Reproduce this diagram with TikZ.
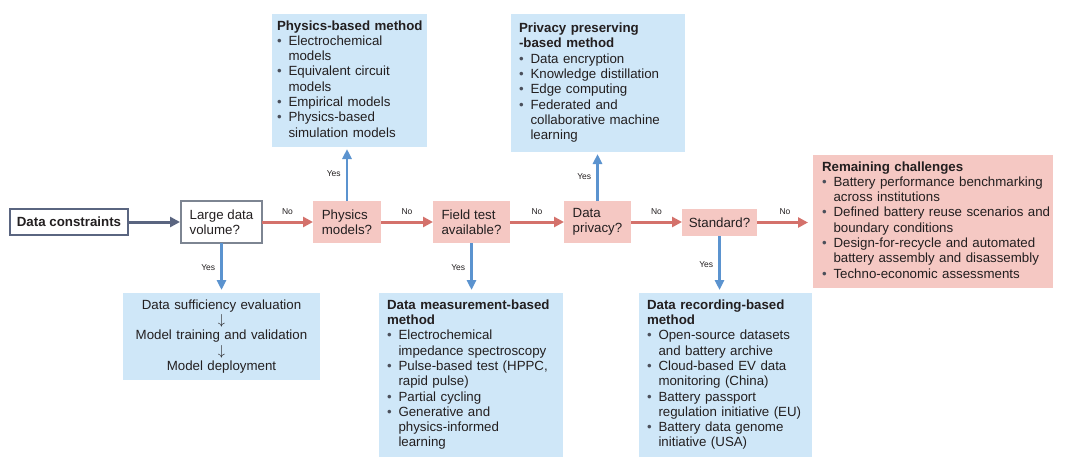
\documentclass[tikz,border=0pt]{standalone}
\usepackage{fontspec}
\setmainfont{Liberation Sans}
\usetikzlibrary{arrows.meta}
\definecolor{bluefill}{HTML}{CFE7F8}
\definecolor{pinkfill}{HTML}{F5C8C3}
\definecolor{redline}{HTML}{D4716B}
\definecolor{blueline}{HTML}{5B93CF}
\definecolor{darkline}{HTML}{5A6580}
\definecolor{grayborder}{HTML}{7D8592}
\definecolor{txt}{HTML}{231F20}
\definecolor{bulc}{HTML}{4A4F5A}
\newcommand\bu{\makebox[11.5pt][l]{\textcolor{bulc}{\textbullet}}}
\newcommand\ct{\hspace*{11.5pt}}
\newenvironment{lines}{\begin{tabular}{@{}l@{}}}{\end{tabular}}
\tikzset{
  base/.style={font=\fontsize{13.3}{15.3}\selectfont, text=txt, outer sep=0pt},
  infobox/.style={base, align=left, anchor=north west, inner ysep=0pt},
  bluebox/.style={infobox, fill=bluefill},
  pinkbox/.style={infobox, fill=pinkfill},
  decision/.style={base, fill=pinkfill, align=left, anchor=north west, inner sep=0pt},
  lbl/.style={font=\fontsize{8.5}{10}\selectfont, text=txt, inner sep=1pt},
  noarrow/.style={draw=redline, line width=3pt, -{Triangle[length=10pt,width=10pt]}},
  yesarrow/.style={draw=blueline, line width=2.6pt, -{Triangle[length=10pt,width=9pt]}},
  darkarrow/.style={draw=darkline, line width=3pt, -{Triangle[length=10pt,width=10pt]}},
}
\begin{document}
\begin{tikzpicture}[x=1pt,y=-1pt]
\useasboundingbox[fill=white] (0,0) rectangle (1080,464);

% decision / flow boxes
\node[base, draw=darkline, line width=1.3pt, anchor=north west, minimum width=118, minimum height=26, inner sep=0pt, font=\fontsize{13.3}{15.3}\selectfont\bfseries] (dc) at (10,209) {Data constraints};
\node[base, draw=grayborder, line width=1.2pt, fill=white, align=left, anchor=north west, minimum width=81, minimum height=42, inner sep=0pt] (ldv) at (181,201) {Large data\\volume?};
\node[decision, minimum width=68, minimum height=42] (pm) at (313,201) {Physics\\models?};
\node[decision, minimum width=77, minimum height=42] (ft) at (433,201) {Field test\\available?};
\node[decision, minimum width=67, minimum height=42] (dp) at (564,201) {Data\\privacy?};
\node[decision, minimum width=75, minimum height=27] (std) at (682,209) {Standard?};

% information boxes
\node[bluebox, minimum width=155, minimum height=133, text width=145, inner xsep=5] (phys) at (272,14) {\begin{lines}
\textbf{Physics-based method}\\
\bu Electrochemical\\
\ct models\\
\bu Equivalent circuit\\
\ct models\\
\bu Empirical models\\
\bu Physics-based\\
\ct simulation models
\end{lines}};

\node[bluebox, minimum width=174, minimum height=138, text width=158, inner xsep=8] (priv) at (511,14) {\begin{lines}
\textbf{Privacy preserving}\\
\textbf{-based method}\\
\bu Data encryption\\
\bu Knowledge distillation\\
\bu Edge computing\\
\bu Federated and\\
\ct collaborative machine\\
\ct learning
\end{lines}};

\node[pinkbox, minimum width=240, minimum height=133, text width=222, inner xsep=9] (rc) at (813,155) {\begin{lines}
\textbf{Remaining challenges}\\
\bu Battery performance benchmarking\\
\ct across institutions\\
\bu Defined battery reuse scenarios and\\
\ct boundary conditions\\
\bu Design-for-recycle and automated\\
\ct battery assembly and disassembly\\
\bu Techno-economic assessments
\end{lines}};

\node[bluebox, align=center, minimum width=197, minimum height=87, text width=189, inner xsep=4] (bl) at (123,293) {%
Data sufficiency evaluation\\
$\downarrow$\\
Model training and validation\\
$\downarrow$\\
Model deployment};

\node[bluebox, minimum width=184, minimum height=164, text width=168, inner xsep=8] (meas) at (379,293) {\begin{lines}
\textbf{Data measurement-based}\\
\textbf{method}\\
\bu Electrochemical\\
\ct impedance spectroscopy\\
\bu Pulse-based test (HPPC,\\
\ct rapid pulse)\\
\bu Partial cycling\\
\bu Generative and\\
\ct physics-informed\\
\ct learning
\end{lines}};

\node[bluebox, minimum width=173, minimum height=164, text width=157, inner xsep=8] (rec) at (639,293) {\begin{lines}
\textbf{Data recording-based}\\
\textbf{method}\\
\bu Open-source datasets\\
\ct and battery archive\\
\bu Cloud-based EV data\\
\ct monitoring (China)\\
\bu Battery passport\\
\ct regulation initiative (EU)\\
\bu Battery data genome\\
\ct initiative (USA)
\end{lines}};

% connectors
\draw[darkarrow, shorten >=1pt] (dc.east) -- (ldv.west);
\draw[noarrow] (ldv.east) -- node[lbl, above=5pt] {No} (pm.west);
\draw[noarrow] (pm.east) -- node[lbl, above=5pt] {No} (ft.west);
\draw[noarrow] (ft.east) -- node[lbl, above=5pt] {No} (dp.west);
\draw[noarrow] (dp.east) -- node[lbl, above=5pt] {No} (dp.east -| std.west);
\draw[noarrow, shorten >=5pt] (std.east) -- node[lbl, above=5pt] {No} (std.east -| rc.west);

\draw[yesarrow, shorten >=3pt] (ldv.south) -- node[lbl, left=4pt] {Yes} (ldv.south |- bl.north);
\draw[yesarrow, shorten >=2pt] (pm.north) -- node[lbl, left=4pt] {Yes} (pm.north |- phys.south);
\draw[yesarrow, shorten >=3pt] (ft.south) -- node[lbl, left=4pt] {Yes} (ft.south |- meas.north);
\draw[yesarrow, shorten >=2pt] (dp.north) -- node[lbl, left=4pt] {Yes} (dp.north |- priv.south);
\draw[yesarrow, shorten >=3pt] (std.south) -- node[lbl, left=4pt] {Yes} (std.south |- rec.north);
\end{tikzpicture}
\end{document}
